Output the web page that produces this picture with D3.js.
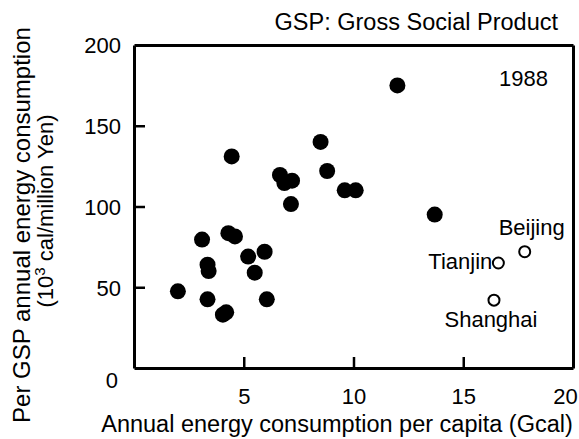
<!DOCTYPE html>
<html><head><meta charset="utf-8">
<script src="https://cdn.jsdelivr.net/npm/d3@7"></script>
<style>body{margin:0;background:#fff}svg text{font-family:"Liberation Sans",Arial,sans-serif;fill:#000}</style>
</head><body><svg id="c" width="579" height="439" xmlns="http://www.w3.org/2000/svg"></svg>
<script>
const provX = [12.0, 8.5, 8.8, 6.65, 7.2, 6.85, 7.15, 9.6, 10.1, 13.7, 4.45, 2.0, 3.1, 3.35, 3.4, 3.35, 4.05, 4.2, 4.3, 4.6, 5.2, 5.5, 5.95, 6.05];
const provY = [175, 140, 122, 119.5, 116, 114.5, 101.5, 110, 110, 95, 131, 47.5, 79.5, 64, 60, 42.5, 33, 34.5, 83.5, 81.5, 69, 59, 72, 42.5];
const cityNames = ["Beijing", "Tianjin", "Shanghai"];
const cityX = [17.8, 16.6, 16.4];
const cityY = [72, 65, 42];
const xTicks = [5, 10, 15, 20];
const yTicks = [0, 50, 100, 150, 200];

const svg = d3.select("#c");
const L = 134, R = 573, T = 45, B = 368;
const x = d3.scaleLinear().domain([0, 20]).range([L, R]);
const y = d3.scaleLinear().domain([0, 200]).range([B, T]);

// frame: top and right edges from the library's axes
svg.append("g").attr("transform", `translate(0,${T})`)
  .call(d3.axisTop(x).tickValues([]).tickSizeOuter(0))
  .select(".domain").attr("stroke", "#000").attr("stroke-width", 3);
svg.append("g").attr("transform", `translate(${R},0)`)
  .call(d3.axisRight(y).tickValues([]).tickSizeOuter(0))
  .select(".domain").attr("stroke", "#000").attr("stroke-width", 3);

// y axis
const ya = svg.append("g").attr("transform", `translate(${L},0)`)
  .call(d3.axisLeft(y).tickValues(yTicks).tickSizeInner(-11).tickSizeOuter(0).tickPadding(14).tickFormat(d3.format("d")));
ya.select(".domain").attr("stroke", "#000").attr("stroke-width", 3);
ya.selectAll(".tick line").attr("stroke", "#000").attr("stroke-width", 2.5);
ya.selectAll(".tick").filter(d => d === 0 || d === 200).select("line").remove();
ya.selectAll("text").style("font-size", "22px").attr("x", -13)
  .attr("dy", d => d === 0 ? "0.9em" : "0.36em").attr("dx", d => d === 0 ? -3 : 0);

// x axis
const xa = svg.append("g").attr("transform", `translate(0,${B})`)
  .call(d3.axisBottom(x).tickValues(xTicks).tickSizeInner(-11).tickSizeOuter(0).tickPadding(18));
xa.select(".domain").attr("stroke", "#000").attr("stroke-width", 3);
xa.selectAll(".tick line").attr("stroke", "#000").attr("stroke-width", 2.5);
xa.selectAll(".tick").filter(d => d === 20).select("line").remove();
xa.selectAll("text").style("font-size", "22px").attr("y", 20).attr("dy", "0.71em")
  .attr("dx", d => d === 20 ? -8 : 0);

// filled points (provinces)
svg.append("g").selectAll("circle").data(provX).join("circle")
  .attr("cx", (d) => x(d)).attr("cy", (d, i) => y(provY[i])).attr("r", 8).attr("fill", "#000");

// open points (cities)
svg.append("g").selectAll("circle").data(cityX).join("circle")
  .attr("cx", d => x(d)).attr("cy", (d, i) => y(cityY[i])).attr("r", 5.5)
  .attr("fill", "#fff").attr("stroke", "#000").attr("stroke-width", 2);

const lab = [
  {dx: 7, dy: -17, anchor: "middle"},
  {dx: -6, dy: 6, anchor: "end"},
  {dx: -3, dy: 27, anchor: "middle"}
];
svg.append("g").selectAll("text").data(cityNames).join("text")
  .attr("x", (d, i) => x(cityX[i]) + lab[i].dx)
  .attr("y", (d, i) => y(cityY[i]) + lab[i].dy)
  .attr("text-anchor", (d, i) => lab[i].anchor)
  .style("font-size", "22px").text(d => d);

svg.append("text").attr("x", 548).attr("y", 86).attr("text-anchor", "end").style("font-size", "22px").text("1988");
svg.append("text").attr("x", 558).attr("y", 30).attr("text-anchor", "end").style("font-size", "23.5px").text("GSP: Gross Social Product");

svg.append("text").attr("x", 337).attr("y", 432).attr("text-anchor", "middle").style("font-size", "23.5px")
  .text("Annual energy consumption per capita (Gcal)");

svg.append("text").attr("transform", "translate(30,225) rotate(-90)").attr("text-anchor", "middle")
  .style("font-size", "24px").text("Per GSP annual energy consumption");
const t2 = svg.append("text").attr("transform", "translate(53,211) rotate(-90)").attr("text-anchor", "middle")
  .style("font-size", "22px");
t2.append("tspan").text("(10");
t2.append("tspan").attr("dy", -8).style("font-size", "15px").text("3");
t2.append("tspan").attr("dy", 8).text(" cal/million Yen)");
</script></body></html>
